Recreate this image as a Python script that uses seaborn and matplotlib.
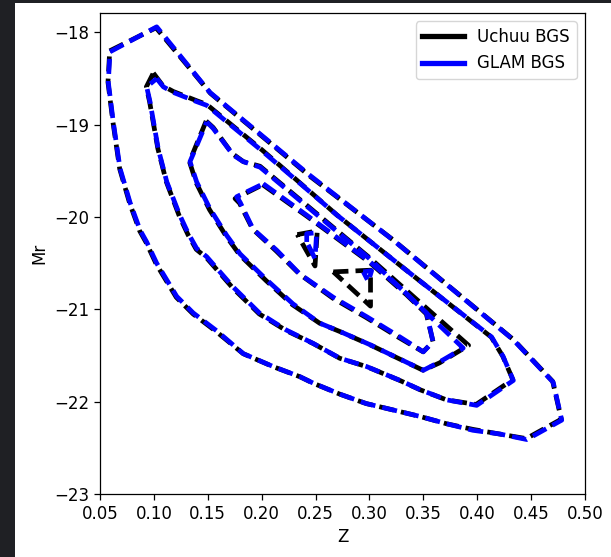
import matplotlib
matplotlib.use("Agg")
import matplotlib.pyplot as plt
from matplotlib.patches import Rectangle
from matplotlib.lines import Line2D
import seaborn as sns
import pandas as pd

# ---------------- data (contour vertices) ----------------
series_names = ["Uchuu BGS", "GLAM BGS"]
series_colors = ["black", "blue"]

# GLAM BGS (blue) contours
glam_l1_z = [0.0593, 0.1026, 0.152, 0.2449, 0.322, 0.4335, 0.4705, 0.4784, 0.446, 0.421, 0.396, 0.372, 0.347, 0.322, 0.297, 0.273, 0.248, 0.2356, 0.2108, 0.183, 0.158, 0.1366, 0.1212, 0.1026, 0.0933, 0.0871, 0.0778, 0.0686, 0.0623, 0.0577, 0.0593]
glam_l1_mr = [-18.21, -17.94, -18.65, -19.55, -20.25, -21.33, -21.79, -22.20, -22.41, -22.35, -22.31, -22.24, -22.16, -22.09, -22.02, -21.92, -21.80, -21.73, -21.62, -21.48, -21.23, -21.04, -20.86, -20.50, -20.27, -20.14, -19.84, -19.475, -18.97, -18.54, -18.21]

glam_l2_z = [0.1026, 0.1088, 0.118, 0.1397, 0.149, 0.20, 0.27, 0.34, 0.4134, 0.424, 0.4335, 0.3995, 0.3716, 0.347, 0.3284, 0.2975, 0.2727, 0.248, 0.223, 0.198, 0.1737, 0.149, 0.1397, 0.132, 0.124, 0.112, 0.104, 0.0964, 0.0933, 0.1026]
glam_l2_mr = [-18.50, -18.59, -18.65, -18.75, -18.79, -19.28, -19.98, -20.63, -21.30, -21.51, -21.77, -22.04, -21.98, -21.87, -21.77, -21.62, -21.53, -21.37, -21.225, -21.04, -20.76, -20.43, -20.34, -20.18, -19.98, -19.62, -19.26, -18.75, -18.59, -18.50]

glam_l3_z = [0.149, 0.155, 0.1737, 0.183, 0.1985, 0.30, 0.387, 0.365, 0.35, 0.325, 0.30, 0.2727, 0.254, 0.229, 0.2046, 0.18, 0.1676, 0.152, 0.1397, 0.1335, 0.149]
glam_l3_mr = [-18.97, -19.04, -19.33, -19.40, -19.46, -20.45, -21.42, -21.57, -21.66, -21.52, -21.38, -21.24, -21.15, -20.94, -20.68, -20.40, -20.20, -19.91, -19.62, -19.40, -18.97]

glam_l4_z = [0.2015, 0.2418, 0.30, 0.3345, 0.353, 0.359, 0.35, 0.3284, 0.2975, 0.2665, 0.2356, 0.214, 0.192, 0.18, 0.1768, 0.2015]
glam_l4_mr = [-19.64, -19.98, -20.48, -20.83, -21.04, -21.35, -21.46, -21.30, -21.08, -20.87, -20.62, -20.36, -20.13, -19.84, -19.78, -19.64]

glam_l5a_z = [0.2418, 0.2418, 0.251, 0.2495, 0.2418]
glam_l5a_mr = [-20.27, -20.18, -20.17, -20.45, -20.27]
glam_l5b_z = [0.2943, 0.302, 0.299, 0.2943]
glam_l5b_mr = [-20.594, -20.58, -20.70, -20.594]

# Uchuu BGS (black) contours
uchuu_l1_z = [0.0590, 0.1020, 0.1525, 0.2450, 0.3222, 0.4338, 0.4700, 0.4780, 0.4455, 0.4205, 0.3960, 0.3718, 0.3468, 0.3220, 0.2968, 0.2728, 0.2478, 0.2355, 0.2105, 0.1828, 0.1578, 0.1364, 0.1208, 0.1022, 0.0930, 0.0868, 0.0775, 0.0683, 0.0620, 0.0574, 0.0590]
uchuu_l1_mr = [-18.20, -17.95, -18.66, -19.56, -20.25, -21.33, -21.78, -22.19, -22.40, -22.35, -22.30, -22.24, -22.16, -22.09, -22.02, -21.92, -21.80, -21.73, -21.62, -21.48, -21.24, -21.05, -20.87, -20.51, -20.28, -20.15, -19.85, -19.48, -18.97, -18.54, -18.20]

uchuu_l2_z = [0.0995, 0.1085, 0.118, 0.1397, 0.149, 0.20, 0.27, 0.34, 0.4130, 0.4238, 0.4330, 0.3990, 0.3714, 0.3468, 0.3282, 0.2973, 0.2725, 0.2478, 0.2228, 0.1978, 0.1733, 0.1487, 0.1393, 0.1316, 0.1236, 0.1116, 0.1037, 0.0960, 0.0930, 0.0995]
uchuu_l2_mr = [-18.44, -18.58, -18.64, -18.74, -18.78, -19.27, -19.98, -20.63, -21.30, -21.51, -21.76, -22.03, -21.98, -21.87, -21.77, -21.62, -21.53, -21.37, -21.23, -21.05, -20.77, -20.44, -20.35, -20.19, -19.99, -19.62, -19.26, -18.75, -18.59, -18.44]

uchuu_l3_z = [0.1485, 0.155, 0.1725, 0.183, 0.1985, 0.30, 0.392, 0.365, 0.3498, 0.3248, 0.2998, 0.2725, 0.2538, 0.2286, 0.2042, 0.1796, 0.1672, 0.1516, 0.1393, 0.1330, 0.1485]
uchuu_l3_mr = [-18.96, -19.03, -19.31, -19.40, -19.45, -20.44, -21.39, -21.58, -21.66, -21.52, -21.38, -21.24, -21.15, -20.95, -20.69, -20.41, -20.21, -19.92, -19.63, -19.40, -18.96]

uchuu_l4_z = [0.2010, 0.2418, 0.30, 0.3342, 0.3528, 0.3590, 0.3498, 0.3280, 0.2972, 0.2662, 0.2353, 0.2137, 0.1916, 0.1795, 0.1753, 0.2010]
uchuu_l4_mr = [-19.65, -19.99, -20.49, -20.84, -21.05, -21.35, -21.46, -21.31, -21.09, -20.88, -20.62, -20.37, -20.13, -19.85, -19.80, -19.65]

uchuu_l5a_z = [0.2331, 0.2516, 0.2495, 0.2331]
uchuu_l5a_mr = [-20.19, -20.15, -20.53, -20.19]
uchuu_l5b_z = [0.2665, 0.301, 0.301, 0.2665]
uchuu_l5b_mr = [-20.594, -20.576, -20.965, -20.594]

x_ticks = [0.05, 0.10, 0.15, 0.20, 0.25, 0.30, 0.35, 0.40, 0.45, 0.50]
y_ticks = [-23, -22, -21, -20, -19, -18]
x_label = "Z"
y_label = "Mr"

uchuu_contours = [(uchuu_l1_z, uchuu_l1_mr), (uchuu_l2_z, uchuu_l2_mr), (uchuu_l3_z, uchuu_l3_mr),
                  (uchuu_l4_z, uchuu_l4_mr), (uchuu_l5a_z, uchuu_l5a_mr), (uchuu_l5b_z, uchuu_l5b_mr)]
glam_contours = [(glam_l1_z, glam_l1_mr), (glam_l2_z, glam_l2_mr), (glam_l3_z, glam_l3_mr),
                 (glam_l4_z, glam_l4_mr), (glam_l5a_z, glam_l5a_mr), (glam_l5b_z, glam_l5b_mr)]

# ---------------- figure ----------------
plt.rcParams['font.family'] = ['DejaVu Sans']
W, H = 611, 557
fig = plt.figure(figsize=(W / 100, H / 100), dpi=100, facecolor='#1f2024')
fig.patches.append(Rectangle((15 / W, 0), 1 - 15 / W, 1 - 3 / H, transform=fig.transFigure,
                             facecolor='white', edgecolor='none', zorder=-1))
ax = fig.add_axes([100 / W, 1 - 494 / H, 485 / W, (494 - 13) / H])

for contours, color in [(uchuu_contours, series_colors[0]), (glam_contours, series_colors[1])]:
    for zs, mrs in contours:
        df = pd.DataFrame({"z": zs, "mr": mrs})
        sns.lineplot(data=df, x="z", y="mr", sort=False, estimator=None, color=color,
                     linestyle=(0, (3.2, 1.5)), linewidth=3.4, ax=ax, legend=False)

ax.set_xlim(0.05, 0.50)
ax.set_ylim(-23, -17.79)
ax.set_xticks(x_ticks)
ax.set_xticklabels([f"{v:.2f}" for v in x_ticks])
ax.set_yticks(y_ticks)
ax.tick_params(labelsize=12, length=4.2, width=0.9)
ax.set_xlabel(x_label, fontsize=12)
ax.set_ylabel(y_label, fontsize=12)
for s in ax.spines.values():
    s.set_linewidth(0.9)

handles = [Line2D([], [], color=c, lw=3.8) for c in series_colors]
ax.legend(handles, series_names, loc='upper right', fontsize=12, handlelength=2.5)

fig.savefig("out.png", dpi=100, facecolor=fig.get_facecolor())
